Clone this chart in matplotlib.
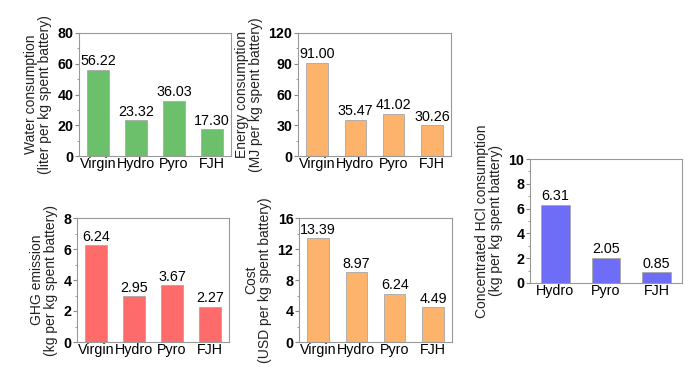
import matplotlib.pyplot as plt
from matplotlib.ticker import MultipleLocator

plt.rcParams["font.family"] = ["Liberation Sans", "DejaVu Sans"]

# Data
routes = ["Virgin", "Hydro", "Pyro", "FJH"]
water = [56.22, 23.32, 36.03, 17.30]
energy = [91.00, 35.47, 41.02, 30.26]
ghg = [6.24, 2.95, 3.67, 2.27]
cost = [13.39, 8.97, 6.24, 4.49]
hcl_routes = ["Hydro", "Pyro", "FJH"]
hcl = [6.31, 2.05, 0.85]

green = "#6cc06c"
orange = "#fdb36b"
red = "#fd6b6b"
blue = "#6d6df8"

fig = plt.figure(figsize=(6.99, 3.87), dpi=100)
W, H = 699, 387


def add_ax(x0, y0, x1, y1):
    # pixel box -> figure fraction
    return fig.add_axes([x0 / W, 1 - y1 / H, (x1 - x0) / W, (y1 - y0) / H])


def bar_panel(ax, cats, vals, color, ymax, step, ylabel):
    x = list(range(len(cats)))
    ax.bar(x, vals, width=0.56, color=color, edgecolor="#a8a8a8", linewidth=0.6)
    for xi, v in zip(x, vals):
        ax.text(xi, v + ymax * 0.012, f"{v:.2f}", ha="center", va="bottom", fontsize=10.3)
    ax.set_xlim(-0.5, len(cats) - 0.5)
    ax.set_ylim(0, ymax)
    ax.set_xticks(x)
    ax.set_xticklabels(cats, fontsize=10.3)
    ax.yaxis.set_major_locator(MultipleLocator(step))
    ax.yaxis.set_minor_locator(MultipleLocator(step / 2))
    ax.tick_params(axis="x", length=0, pad=1)
    ax.tick_params(axis="y", which="major", length=3, labelsize=10.3, pad=1, color="#888888")
    ax.tick_params(axis="y", which="minor", length=1.5, color="#888888")
    for lab in ax.get_yticklabels():
        lab.set_fontweight("bold")
    for s in ax.spines.values():
        s.set_color("#999999")
        s.set_linewidth(0.8)
    ax.set_ylabel(ylabel, fontsize=10, labelpad=4, linespacing=1.0, color="#222222")


ax1 = add_ax(79, 33, 231, 156)
bar_panel(ax1, routes, water, green, 80, 20, "Water consumption\n(liter per kg spent battery)")

ax2 = add_ax(298, 33, 451, 156)
bar_panel(ax2, routes, energy, orange, 120, 30, "Energy consumption\n(MJ per kg spent battery)")

ax3 = add_ax(77, 218, 229, 342)
bar_panel(ax3, routes, ghg, red, 8, 2, "GHG emission\n(kg per kg spent battery)")

ax4 = add_ax(299, 218, 452, 342)
bar_panel(ax4, routes, cost, orange, 16, 4, "Cost\n(USD per kg spent battery)")

ax5 = add_ax(530, 159, 682, 283)
bar_panel(ax5, hcl_routes, hcl, blue, 10, 2, "Concentrated HCl consumption\n(kg per kg spent battery)")

plt.savefig("out.png", dpi=100)
